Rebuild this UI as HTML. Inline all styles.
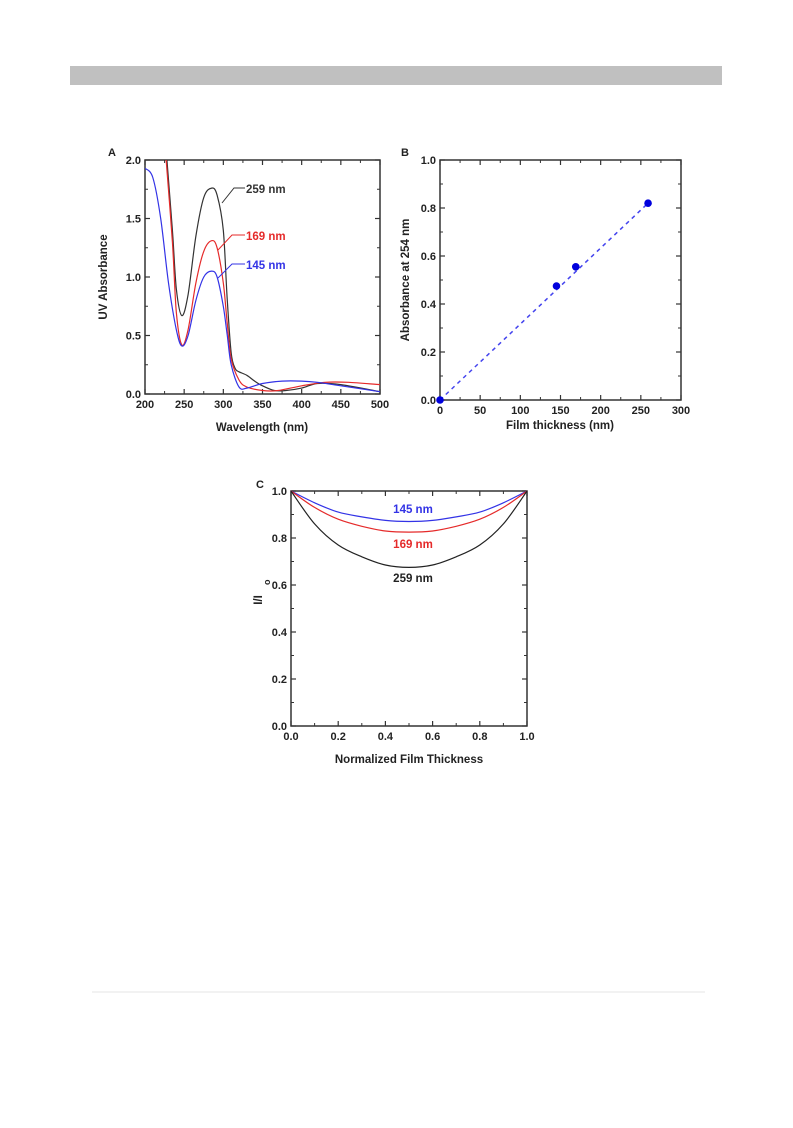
<!DOCTYPE html>
<html><head><meta charset="utf-8"><style>
body{margin:0;background:#fff;width:793px;height:1123px;overflow:hidden;font-family:"Liberation Sans",Arial,sans-serif}
svg text{font-family:"Liberation Sans",Arial,sans-serif;font-weight:bold}
</style></head><body>
<svg id="svg" width="793" height="1123" viewBox="0 0 793 1123" xmlns="http://www.w3.org/2000/svg">
<rect x="70" y="66" width="652" height="19" fill="#c0c0c0"/>
<line x1="92" y1="992" x2="705" y2="992" stroke="#e6e6e6"/>
<g id="A"></g>
<g id="B"></g>
<g id="C"></g>
</svg>
<script>
// Panel A data
const aWlBlack=[228,235,240,247,255,265,275,285,292,300,305,310,315,320,330,340,350,365,380,400,420,450,500];
const aBlack=[2.0,1.4,0.9,0.67,0.85,1.35,1.68,1.76,1.7,1.4,0.8,0.35,0.22,0.19,0.16,0.11,0.07,0.03,0.03,0.05,0.09,0.08,0.02];
const aWlRed=[227,235,240,247,255,265,275,285,292,300,305,310,320,330,350,370,400,430,460,500];
const aRed=[2.0,1.3,0.7,0.42,0.55,0.95,1.22,1.31,1.25,0.95,0.6,0.3,0.12,0.06,0.03,0.03,0.07,0.1,0.1,0.08];
const aWlBlue=[200,210,220,230,240,247,255,265,275,285,292,300,305,310,320,330,350,375,400,420,450,500];
const aBlue=[1.93,1.85,1.5,0.95,0.55,0.41,0.5,0.8,1.0,1.05,1.0,0.75,0.5,0.25,0.06,0.05,0.09,0.11,0.11,0.1,0.07,0.02];
const aXTicks=[200,250,300,350,400,450,500];
const aYTicks=[0.0,0.5,1.0,1.5,2.0];
// Panel B data
const bThick=[0,145,169,259];
const bAbs=[0,0.475,0.555,0.82];
const bXTicks=[0,50,100,150,200,250,300];
const bYTicks=[0.0,0.2,0.4,0.6,0.8,1.0];
// Panel C data
const cX=[0,0.1,0.2,0.3,0.4,0.5,0.6,0.7,0.8,0.9,1.0];
const c145=[1,0.95,0.91,0.89,0.875,0.87,0.875,0.89,0.91,0.95,1];
const c169=[1,0.93,0.88,0.85,0.83,0.825,0.83,0.85,0.88,0.93,1];
const c259=[1,0.86,0.77,0.72,0.685,0.675,0.685,0.72,0.77,0.86,1];
const cXTicks=[0.0,0.2,0.4,0.6,0.8,1.0];
const cYTicks=[0.0,0.2,0.4,0.6,0.8,1.0];

const NS="http://www.w3.org/2000/svg";
function mk(parent,tag,attrs,txt){const e=document.createElementNS(NS,tag);for(const k in attrs)e.setAttribute(k,attrs[k]);if(txt!==undefined)e.textContent=txt;parent.appendChild(e);return e;}
function lin(d0,d1,r0,r1){return v=>r0+(v-d0)/(d1-d0)*(r1-r0);}
function smooth(pts){let d="M"+pts[0][0]+","+pts[0][1];for(let i=0;i<pts.length-1;i++){const p0=pts[Math.max(0,i-1)],p1=pts[i],p2=pts[i+1],p3=pts[Math.min(pts.length-1,i+2)];const c1=[p1[0]+(p2[0]-p0[0])/6,p1[1]+(p2[1]-p0[1])/6],c2=[p2[0]-(p3[0]-p1[0])/6,p2[1]-(p3[1]-p1[1])/6];d+=" C"+c1[0].toFixed(1)+","+c1[1].toFixed(1)+" "+c2[0].toFixed(1)+","+c2[1].toFixed(1)+" "+p2[0].toFixed(1)+","+p2[1].toFixed(1);}return d;}
function axes(g,L,T,R,B,sx,sy,xt,yt,xf,yf,id,minorX,minorY){
  const clip=mk(g,"clipPath",{id:"clip"+id});mk(clip,"rect",{x:L,y:T,width:R-L,height:B-T});
  const fr=mk(g,"rect",{x:L,y:T,width:R-L,height:B-T,fill:"none",stroke:"#333","stroke-width":1.5});
  
  
  xt.forEach((v,i)=>{const x=sx(v);
    mk(g,"line",{x1:x,y1:B,x2:x,y2:B-5,stroke:"#333","stroke-width":1.2});
    mk(g,"line",{x1:x,y1:T,x2:x,y2:T+5,stroke:"#333","stroke-width":1.2});
    if(i<xt.length-1&&minorX){const xm=sx(v+minorX);mk(g,"line",{x1:xm,y1:B,x2:xm,y2:B-3,stroke:"#333"});mk(g,"line",{x1:xm,y1:T,x2:xm,y2:T+3,stroke:"#333"});}
    const t=mk(g,"text",{x:x,y:B+14,"text-anchor":"middle","font-size":11,fill:"#222"},xf(v));
    
    });
  yt.forEach((v,i)=>{const y=sy(v);
    mk(g,"line",{x1:L,y1:y,x2:L+5,y2:y,stroke:"#333","stroke-width":1.2});
    mk(g,"line",{x1:R,y1:y,x2:R-5,y2:y,stroke:"#333","stroke-width":1.2});
    if(i<yt.length-1&&minorY){const ym=sy(v+minorY);mk(g,"line",{x1:L,y1:ym,x2:L+3,y2:ym,stroke:"#333"});mk(g,"line",{x1:R,y1:ym,x2:R-3,y2:ym,stroke:"#333"});}
    const t=mk(g,"text",{x:L-4,y:y+4,"text-anchor":"end","font-size":11,fill:"#222"},yf(v));
    
    });
}
// Panel A
(function(){const g=document.getElementById("A");const L=145,T=160,R=380,B=394;
 const sx=lin(200,500,L,R),sy=lin(0,2,B,T);
 axes(g,L,T,R,B,sx,sy,aXTicks,aYTicks,v=>v,v=>v.toFixed(1),"A",25,0.25);
 const series=[[aWlBlack,aBlack,"#333","series-259nm"],[aWlRed,aRed,"#e52a2a","series-169nm"],[aWlBlue,aBlue,"#3333e6","series-145nm"]];
 series.forEach(s=>{const p=mk(g,"path",{d:smooth(s[0].map((w,i)=>[sx(w),sy(s[1][i])])),fill:"none",stroke:s[2],"stroke-width":1.2,"clip-path":"url(#clipA)"});
  
  });
 const labs=[["259 nm","#333",246,193,[222,203,234,188,245,188]],["169 nm","#e52a2a",246,240,[218,250,232,235,245,235]],["145 nm","#3333e6",246,269,[218,278,232,264,245,264]]];
 labs.forEach(l=>{mk(g,"polyline",{points:l[4].join(" "),fill:"none",stroke:l[1],"stroke-width":1});
  const t=mk(g,"text",{x:l[2],y:l[3],"font-size":11.5,fill:l[1]},l[0]);
  
  });
 let t=mk(g,"text",{x:108,y:156,"font-size":11,fill:"#222"},"A");
 t=mk(g,"text",{x:262,y:431,"text-anchor":"middle","font-size":11.5,fill:"#222"},"Wavelength (nm)");
 t=mk(g,"text",{x:107,y:277,"text-anchor":"middle","font-size":11.5,fill:"#222",transform:"rotate(-90 107 277)"},"UV Absorbance");
})();
// Panel B
(function(){const g=document.getElementById("B");const L=440,T=160,R=681,B=400;
 const sx=lin(0,300,L,R),sy=lin(0,1,B,T);
 axes(g,L,T,R,B,sx,sy,bXTicks,bYTicks,v=>v,v=>v.toFixed(1),"B",25,0.1);
 const n=bThick.length-1;
 const ln=mk(g,"line",{x1:sx(bThick[0]),y1:sy(bAbs[0]),x2:sx(bThick[n]),y2:sy(bAbs[n]),stroke:"#4444ee","stroke-width":1.5,"stroke-dasharray":"4,4"});
 
 bThick.forEach((v,i)=>{const c=mk(g,"circle",{cx:sx(v),cy:sy(bAbs[i]),r:3.8,fill:"#0000dd"});
  
  });
 let t=mk(g,"text",{x:401,y:156,"font-size":11,fill:"#222"},"B");
 t=mk(g,"text",{x:560,y:429,"text-anchor":"middle","font-size":11.5,fill:"#222"},"Film thickness (nm)");
 t=mk(g,"text",{x:409,y:280,"text-anchor":"middle","font-size":11.5,fill:"#222",transform:"rotate(-90 409 280)"},"Absorbance  at 254 nm");
})();
// Panel C
(function(){const g=document.getElementById("C");const L=291,T=491,R=527,B=726;
 const sx=lin(0,1,L,R),sy=lin(0,1,B,T);
 axes(g,L,T,R,B,sx,sy,cXTicks,cYTicks,v=>v.toFixed(1),v=>v.toFixed(1),"C",0.1,0.1);
 [[c145,"#3333e6","curve-145nm"],[c169,"#e52a2a","curve-169nm"],[c259,"#222","curve-259nm"]].forEach(s=>{
  const p=mk(g,"path",{d:smooth(cX.map((x,i)=>[sx(x),sy(s[0][i])])),fill:"none",stroke:s[1],"stroke-width":1.2});
  
  });
 [["145 nm","#3333e6",413,513],["169 nm","#e52a2a",413,548],["259 nm","#222",413,582]].forEach(l=>{
  const t=mk(g,"text",{x:l[2],y:l[3],"text-anchor":"middle","font-size":11.5,fill:l[1]},l[0]);
  
  });
 let t=mk(g,"text",{x:256,y:488,"font-size":11,fill:"#222"},"C");
 t=mk(g,"text",{x:409,y:763,"text-anchor":"middle","font-size":11.5,fill:"#222"},"Normalized Film Thickness");
 t=mk(g,"text",{x:262,y:600,"text-anchor":"middle","font-size":11.5,fill:"#222",transform:"rotate(-90 262 600)"},"I/I");
 t=mk(g,"text",{x:270,y:585,"font-size":9,fill:"#222",transform:"rotate(-90 270 585)"},"o");
})();
</script>
</body></html>
